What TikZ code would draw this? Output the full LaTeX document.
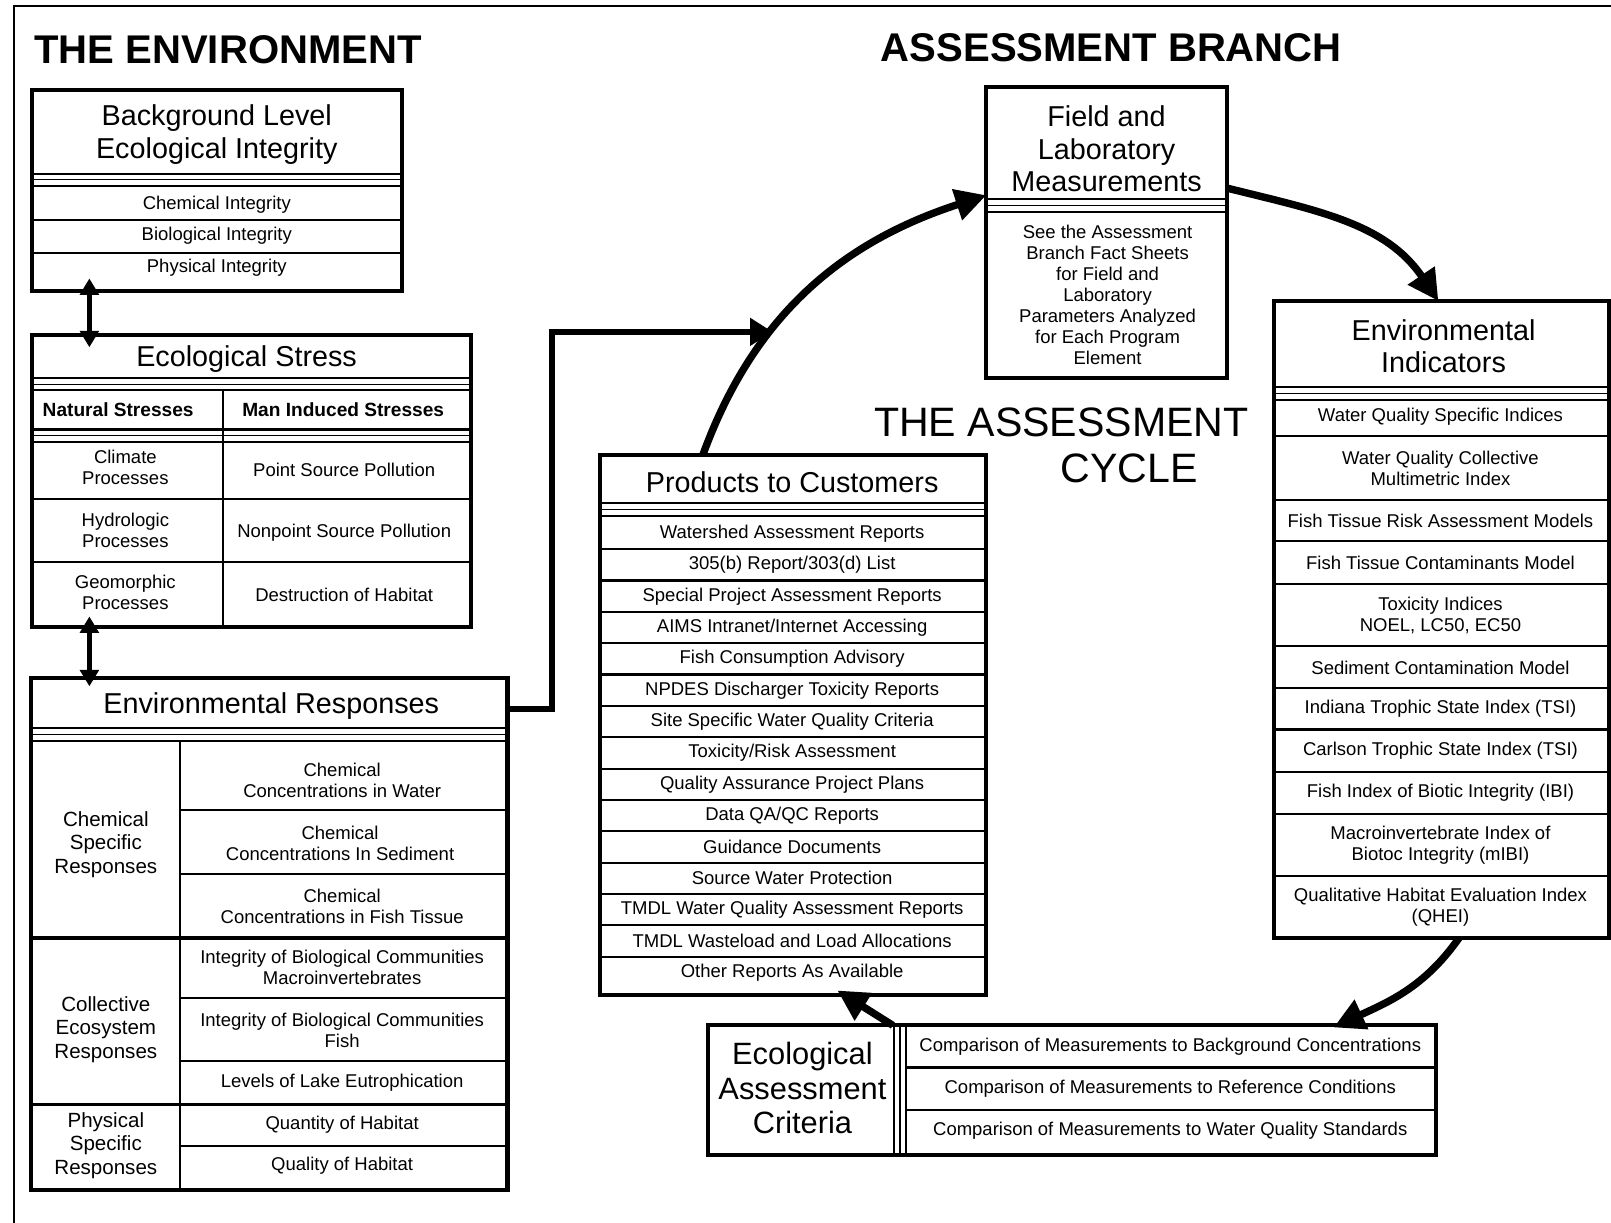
\documentclass[tikz,border=0pt]{standalone}
\usepackage{fontspec}
\setmainfont{Liberation Sans}
\usetikzlibrary{arrows.meta}
% three parallel rules used as a separator under each box title
\newcommand\triplerule[3]{%
  \draw[rule] (#1,#3) -- (#2,#3);
  \draw[thinrule] (#1,#3+6) -- (#2,#3+6);
  \draw[rule] (#1,#3+12) -- (#2,#3+12);}
\begin{document}
\begin{tikzpicture}[x=0.5pt,y=-0.5pt,
  frame/.style={draw, line width=2pt, inner sep=0pt, outer sep=0pt, anchor=north west},
  rule/.style={line width=1pt},
  thinrule/.style={line width=0.6pt},
  small/.style={font=\fontsize{9}{10.2}\selectfont, align=center, inner sep=0pt},
  ttl/.style={font=\fontsize{14}{15.8}\selectfont, align=center, inner sep=0pt},
  grp/.style={font=\fontsize{10}{11.5}\selectfont, align=center, inner sep=0pt},
  hdr/.style={font=\bfseries\fontsize{9.3}{11}\selectfont, inner sep=0pt},
  heading/.style={font=\bfseries\fontsize{19.5}{22}\selectfont, inner sep=0pt, anchor=base west},
  cyclbl/.style={font=\fontsize{20}{22}\selectfont, inner sep=0pt},
  cyc/.style={line width=3.6pt, -{Triangle[length=15pt,width=15pt]}},
  elbow/.style={line width=3pt, -{Triangle[length=11pt,width=13pt]}},
  dbl/.style={line width=2.8pt, {Triangle[length=8pt,width=9pt]}-{Triangle[length=8pt,width=9pt]}},
]
\useasboundingbox (0,0) rectangle (1568,1190);
\fill[white] (0,0) rectangle (1568,1190);

% page frame
\draw[line width=1pt] (14,1190) -- (14,6) -- (1568,6);

% headings
\node[heading] (envhead) at (33,62) {THE ENVIRONMENT};
\node[heading] (asshead) at (857,60) {ASSESSMENT BRANCH};

% ---------- Background Level Ecological Integrity ----------
\node[frame, minimum width=180pt, minimum height=97.5pt] (bg) at (31,88) {};
\node[ttl] (bgt) at (211,131) {Background Level\\Ecological Integrity};
\triplerule{31}{391}{169}
\draw[rule] (31,214) -- (391,214);
\draw[rule] (31,246) -- (391,246);
\node[small] (bg1) at (211,199) {Chemical Integrity};
\node[small] (bg2) at (211,229) {Biological Integrity};
\node[small] (bg3) at (211,261) {Physical Integrity};

% ---------- Ecological Stress ----------
\node[frame, minimum width=213.5pt, minimum height=142pt] (stress) at (31,326) {};
\node[ttl] (stt) at (240,349) {Ecological Stress};
\triplerule{31}{458}{368}
\triplerule{31}{458}{418}
\draw[rule] (217,380) -- (217,610);
\draw[rule] (31,486) -- (458,486);
\draw[rule] (31,547) -- (458,547);
\node[hdr] (sth1) at (115,399) {Natural Stresses};
\node[hdr] (sth2) at (334,399) {Man Induced Stresses};
\node[small] (st1) at (122,455) {Climate\\Processes};
\node[small] (st2) at (335,457) {Point Source Pollution};
\node[small] (st3) at (122,516) {Hydrologic\\Processes};
\node[small] (st4) at (335,518) {Nonpoint Source Pollution};
\node[small] (st5) at (122,577) {Geomorphic\\Processes};
\node[small] (st6) at (335,579) {Destruction of Habitat};

% ---------- Environmental Responses ----------
\node[frame, minimum width=232pt, minimum height=249pt] (envresp) at (30,660) {};
\node[ttl] (ert) at (264,687) {Environmental Responses};
\triplerule{30}{494}{709}
\draw[rule] (175,721) -- (175,1158);
\foreach \yy in {788,851,971,1033,1115} \draw[rule] (175,\yy) -- (494,\yy);
\draw[line width=1.6pt] (30,913) -- (494,913);
\draw[line width=1.6pt] (30,1075) -- (494,1075);
\node[grp] (erg1) at (103,822) {Chemical\\Specific\\Responses};
\node[grp] (erg2) at (103,1002) {Collective\\Ecosystem\\Responses};
\node[grp] (erg3) at (103,1115) {Physical\\Specific\\Responses};
\node[small] (er1) at (333,760) {Chemical\\Concentrations in Water};
\node[small] (er2) at (331,821) {Chemical\\Concentrations In Sediment};
\node[small] (er3) at (333,882) {Chemical\\Concentrations in Fish Tissue};
\node[small] (er4) at (333,942) {Integrity of Biological Communities\\Macroinvertebrates};
\node[small] (er5) at (333,1003) {Integrity of Biological Communities\\Fish};
\node[small] (er6) at (333,1054) {Levels of Lake Eutrophication};
\node[small] (er7) at (333,1095) {Quantity of Habitat};
\node[small] (er8) at (333,1135) {Quality of Habitat};

% links between the environment boxes
\draw[dbl] ([xshift=28pt,yshift=6pt]bg.south west) -- ([xshift=28pt,yshift=-6pt]stress.north west);
\draw[dbl] ([xshift=28pt,yshift=5pt]stress.south west) -- ([xshift=28.5pt,yshift=-4pt]envresp.north west);

% ---------- Products to Customers ----------
\node[frame, minimum width=188pt, minimum height=262.5pt] (prod) at (584,443) {};
\node[ttl] (prt) at (771,469) {Products to Customers};
\triplerule{584}{960}{490}
\foreach \k in {1,...,14} \draw[rule] (584,{504+30.5*\k}) -- (960,{504+30.5*\k});
\foreach \t [count=\i from 0] in {Watershed Assessment Reports, 305(b) Report/303(d) List,
    Special Project Assessment Reports, AIMS Intranet/Internet Accessing,
    Fish Consumption Advisory, NPDES Discharger Toxicity Reports,
    Site Specific Water Quality Criteria, Toxicity/Risk Assessment,
    Quality Assurance Project Plans, Data QA/QC Reports, Guidance Documents,
    Source Water Protection, TMDL Water Quality Assessment Reports,
    TMDL Wasteload and Load Allocations, Other Reports As Available}
  \node[small] (pr\i) at (771,{519.3+30.5*\i}) {\t};

% ---------- Field and Laboratory Measurements ----------
\node[frame, minimum width=117pt, minimum height=141.5pt] (field) at (960,85) {};
\node[ttl] (flt) at (1077,145) {Field and\\Laboratory\\Measurements};
\triplerule{960}{1194}{194}
\node[small] (flb) at (1078,287) {See the Assessment\\Branch Fact Sheets\\for Field and\\Laboratory\\Parameters Analyzed\\for Each Program\\Element};

% ---------- Environmental Indicators ----------
\node[frame, minimum width=163pt, minimum height=310pt] (ind) at (1240,293) {};
\node[ttl] (int) at (1405,337) {Environmental\\Indicators};
\triplerule{1240}{1566}{377}
\foreach \yy in {424,487,527,568,629,670,710,751,792,853} \draw[rule] (1240,\yy) -- (1566,\yy);
\node[small] (in1) at (1402,406) {Water Quality Specific Indices};
\node[small] (in2) at (1402,456) {Water Quality Collective\\Multimetric Index};
\node[small] (in3) at (1402,507) {Fish Tissue Risk Assessment Models};
\node[small] (in4) at (1402,548) {Fish Tissue Contaminants Model};
\node[small] (in5) at (1402,599) {Toxicity Indices\\NOEL, LC50, EC50};
\node[small] (in6) at (1402,650) {Sediment Contamination Model};
\node[small] (in7) at (1402,690) {Indiana Trophic State Index (TSI)};
\node[small] (in8) at (1402,731) {Carlson Trophic State Index (TSI)};
\node[small] (in9) at (1402,772) {Fish Index of Biotic Integrity (IBI)};
\node[small] (in10) at (1402,823) {Macroinvertebrate Index of\\Biotoc Integrity (mIBI)};
\node[small] (in11) at (1402,883) {Qualitative Habitat Evaluation Index\\(QHEI)};

% ---------- Ecological Assessment Criteria ----------
\node[frame, minimum width=354.5pt, minimum height=63pt] (crit) at (689,998) {};
\node[font=\fontsize{15}{16.8}\selectfont, align=center, inner sep=0pt] (crt) at (781,1059) {Ecological\\Assessment\\Criteria};
\draw[rule] (870,998) -- (870,1124);
\draw[thinrule] (876,998) -- (876,1124);
\draw[rule] (882,998) -- (882,1124);
\draw[rule] (882,1039) -- (1398,1039);
\draw[rule] (882,1080) -- (1398,1080);
\node[small] (cr1) at (1139,1019) {Comparison of Measurements to Background Concentrations};
\node[small] (cr2) at (1139,1060) {Comparison of Measurements to Reference Conditions};
\node[small] (cr3) at (1139,1101) {Comparison of Measurements to Water Quality Standards};

% cycle label
\node[cyclbl] (cyc1) at (1033,411) {THE ASSESSMENT};
\node[cyclbl] (cyc2) at (1099,456) {CYCLE};

% ---------- the assessment cycle ----------
\draw[cyc] ([xshift=50pt]prod.north west) to[out=70,in=198] ([yshift=-52.5pt]field.north west);
\draw[cyc] ([yshift=-49pt]field.north east) to[out=-14,in=124] ([xshift=80pt]ind.north west);
\draw[cyc] ([xshift=90pt]ind.south west) to[out=-125,in=25] ([xshift=304.5pt,yshift=-1pt]crit.north west);
\draw[cyc] ([xshift=90pt]crit.north west) -- ([xshift=115.5pt,yshift=2pt]prod.south west);

% environment feeds the cycle
\coordinate (ctip) at (752,323);
\draw[elbow] ([yshift=-15pt]envresp.north east) -- ++(21.5pt,0) |- (ctip);
\end{tikzpicture}
\end{document}
